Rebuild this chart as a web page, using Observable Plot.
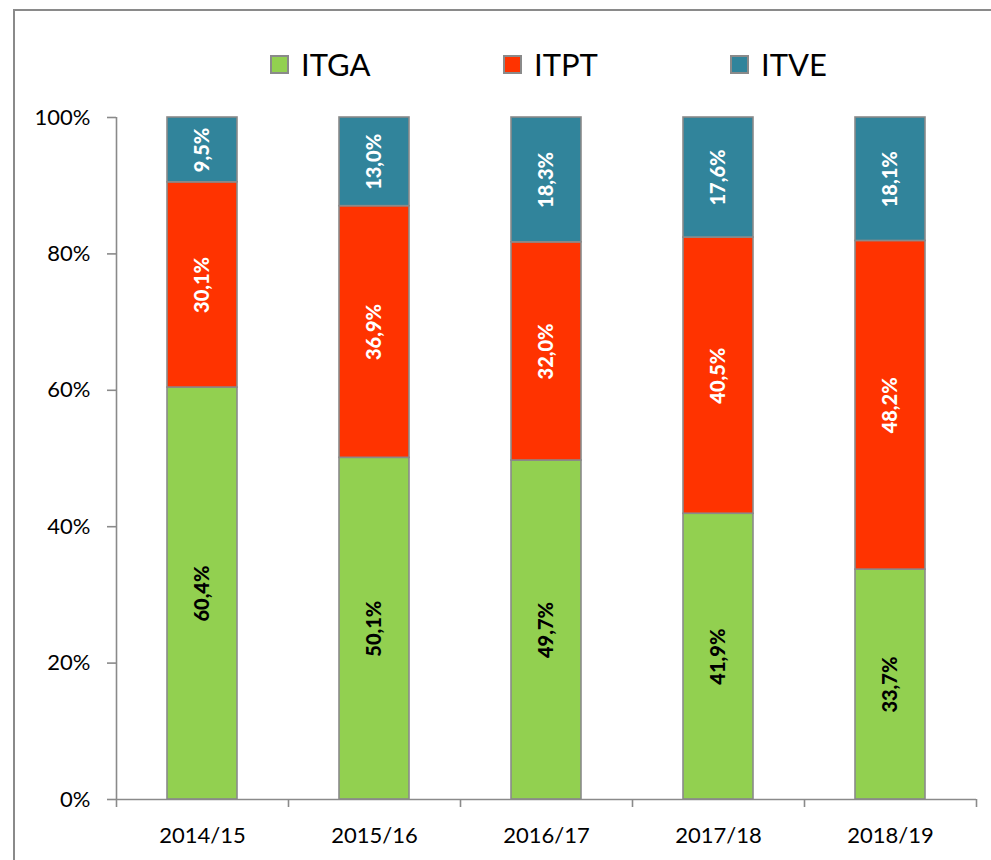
<!DOCTYPE html>
<html>
<head>
<meta charset="utf-8">
<script src="https://cdn.jsdelivr.net/npm/d3@7"></script>
<script src="https://cdn.jsdelivr.net/npm/@observablehq/plot@0.6"></script>
<style>
  html, body { margin: 0; padding: 0; background: #fff; }
  body { width: 991px; height: 860px; position: relative; overflow: hidden; font-family: Lato, "Open Sans", sans-serif; }
  #frame { position: absolute; left: 13px; top: 9px; width: 1100px; height: 1000px; border: 2px solid #8a8a8a; box-sizing: border-box; }
  #legend { position: relative; height: 95px; }
  .item { position: absolute; top: 44px; display: flex; align-items: center; font-size: 31px; color: #000; line-height: 40px; }
  .sw { width: 19px; height: 19px; border: 2px solid #8a8a8a; box-sizing: border-box; margin-right: 12px; }
  #chart { position: relative; }
</style>
</head>
<body>
<div id="frame"></div>
<div id="legend"></div>
<div id="chart"></div>
<script>
const years = ["2014/15", "2015/16", "2016/17", "2017/18", "2018/19"];
const series = ["ITGA", "ITPT", "ITVE"];
const colors = ["#92D050", "#FF3300", "#31849B"];
const labelColors = ["#000000", "#ffffff", "#ffffff"];
const ITGA = [60.4, 50.1, 49.7, 41.9, 33.7];
const ITPT = [30.1, 36.9, 32.0, 40.5, 48.2];
const ITVE = [9.5, 13.0, 18.3, 17.6, 18.1];
const yTicks = [0, 20, 40, 60, 80, 100];

const values = [ITGA, ITPT, ITVE];
const data = [];
series.forEach((s, i) => years.forEach((y, j) => data.push({year: y, series: s, value: values[i][j], color: colors[i], label: labelColors[i]})));

// legend
const legend = document.getElementById("legend");
const legendX = [270, 503, 730];
series.forEach((s, i) => {
  const d = document.createElement("div");
  d.className = "item";
  d.style.left = legendX[i] + "px";
  d.innerHTML = `<div class="sw" style="background:${colors[i]}"></div><span>${s}</span>`;
  legend.appendChild(d);
});

const W = 991, H = 765;
const mL = 116, mR = 15, mT = 22, mB = 61;
const step = (W - mL - mR) / years.length;
const pad = 0.593;
const grey = "#8a8a8a";
const fmt = v => v.toFixed(1).replace(".", ",") + "%";

const chart = Plot.plot({
  width: W,
  height: H,
  marginLeft: mL,
  marginRight: mR,
  marginTop: mT,
  marginBottom: mB,
  style: {fontFamily: "Lato, 'Open Sans', sans-serif", background: "transparent", overflow: "visible"},
  x: {domain: years, paddingInner: pad, paddingOuter: pad / 2, label: null},
  y: {domain: [0, 100], label: null},
  color: {type: "identity"},
  marks: [
    Plot.barY(data, {x: "year", y: "value", fill: "color", stroke: grey, strokeWidth: 1.6, order: series}),
    Plot.text(data, Plot.stackY({x: "year", y: "value", order: series, text: d => fmt(d.value), fill: "label", rotate: -90, fontSize: 20, fontWeight: 900})),
    // y axis line
    Plot.ruleX([years[0]], {dx: -step / 2, stroke: grey, strokeWidth: 1.6, insetBottom: -8}),
    // x boundary ticks
    Plot.ruleX(years.slice(1), {dx: -step / 2, stroke: grey, strokeWidth: 1.6, insetTop: H - mT - mB, insetBottom: -8}),
    Plot.ruleX([years[years.length - 1]], {dx: step / 2, stroke: grey, strokeWidth: 1.6, insetTop: H - mT - mB, insetBottom: -8}),
    Plot.ruleY([0], {stroke: grey, strokeWidth: 1.6}),
    Plot.axisY({ticks: yTicks, tickFormat: d => d + "%", tickSize: 9, tickPadding: 17, stroke: grey, strokeWidth: 1.6, fontSize: 22, fill: "#000", label: null}),
    Plot.axisX({tickSize: 0, tickPadding: 28, fontSize: 22, fill: "#000", label: null})
  ]
});
document.getElementById("chart").appendChild(chart);
</script>
</body>
</html>
